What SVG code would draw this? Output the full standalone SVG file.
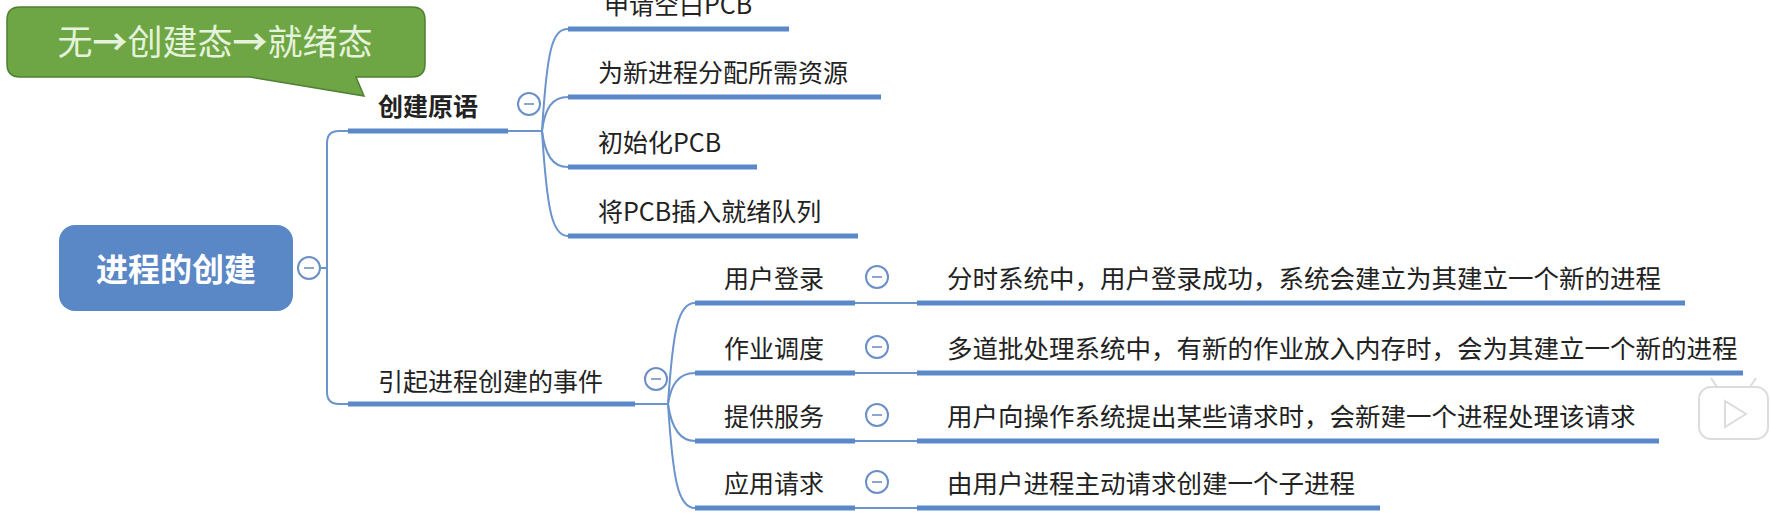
<svg xmlns="http://www.w3.org/2000/svg" width="1771" height="514" viewBox="0 0 1771 514">
<style>
.bar{stroke:#5a88c8;stroke-width:5;fill:none}
.thin{stroke:#6b93cc;stroke-width:2;fill:none}
.lbl{font-family:"Noto Sans CJK SC","Noto Sans",sans-serif;font-size:25px;fill:#222}
.desc{font-family:"Noto Sans CJK SC","Noto Sans",sans-serif;font-size:25.5px;fill:#222}
.col circle{fill:#fff;stroke:#6a8fc6;stroke-width:2}
.col line{stroke:#8ea6cc;stroke-width:2}
.arr{font-weight:bold}
</style>
<defs>
<g id="minus" class="col"><circle cx="0" cy="0" r="11"/><line x1="-5" y1="0" x2="5" y2="0"/></g>
</defs>
<rect width="1771" height="514" fill="#fff"/>

<g id="connectors">
<line class="thin" x1="321" y1="268" x2="327" y2="268"/>
<path class="thin" d="M348,131 H339 Q327,131 327,143 V392 Q327,404 339,404 H348"/>
<line class="thin" x1="508" y1="131" x2="542" y2="131"/>
<path class="thin" d="M542,131 C547,50 552,29 568,29"/>
<path class="thin" d="M542,131 C545,108 552,97 568,97"/>
<path class="thin" d="M542,131 C545,154 552,167 568,167"/>
<path class="thin" d="M542,131 C547,210 552,236 568,236"/>
<line class="thin" x1="635" y1="404" x2="668" y2="404"/>
<path class="thin" d="M668,404 C673,330 678,303 695,303"/>
<path class="thin" d="M668,404 C671,385 678,373 695,373"/>
<path class="thin" d="M668,404 C671,425 678,441 695,441"/>
<path class="thin" d="M668,404 C673,480 678,508 695,508"/>
<line class="thin" x1="855" y1="303" x2="917" y2="303"/>
<line class="thin" x1="855" y1="373" x2="917" y2="373"/>
<line class="thin" x1="855" y1="441" x2="917" y2="441"/>
<line class="thin" x1="855" y1="508" x2="917" y2="508"/>
</g>

<g id="callout">
<path d="M20,7 H412 Q425,7 425,20 V64 Q425,77 412,77 H356 L364,96 L250,77 H20 Q7,77 7,64 V20 Q7,7 20,7 Z" fill="#6ea645" stroke="#4f7f32" stroke-width="1.5"/>
<text x="215" y="55" text-anchor="middle" font-family="Noto Sans CJK SC, Noto Sans, sans-serif" font-size="35" fill="#e6f3dc">无<tspan class="arr">→</tspan>创建态<tspan class="arr">→</tspan>就绪态</text>
</g>

<g id="root">
<rect x="59" y="225" width="234" height="86" rx="16" fill="#5a87c6"/>
<text x="176" y="281" text-anchor="middle" font-family="Noto Sans CJK SC, Noto Sans, sans-serif" font-size="32" font-weight="bold" fill="#fff">进程的创建</text>
<use href="#minus" x="309" y="268"/>
</g>

<g id="create-primitive">
<text class="lbl" x="378" y="116" font-weight="bold">创建原语</text>
<line class="bar" x1="348" y1="131" x2="508" y2="131"/>
<use href="#minus" x="529" y="104"/>
</g>
<g id="apply-pcb">
<text class="lbl" x="604" y="14">申请空白PCB</text>
<line class="bar" x1="568" y1="29" x2="789" y2="29"/>
</g>
<g id="alloc-res">
<text class="lbl" x="598" y="82">为新进程分配所需资源</text>
<line class="bar" x1="568" y1="97" x2="881" y2="97"/>
</g>
<g id="init-pcb">
<text class="lbl" x="598" y="152">初始化PCB</text>
<line class="bar" x1="568" y1="167" x2="757" y2="167"/>
</g>
<g id="insert-pcb">
<text class="lbl" x="598" y="221">将PCB插入就绪队列</text>
<line class="bar" x1="568" y1="236" x2="858" y2="236"/>
</g>

<g id="events">
<text class="lbl" x="378" y="391">引起进程创建的事件</text>
<line class="bar" x1="348" y1="404" x2="635" y2="404"/>
<use href="#minus" x="656" y="379"/>
</g>

<g id="login">
<text class="lbl" x="724" y="288">用户登录</text>
<line class="bar" x1="695" y1="303" x2="855" y2="303"/>
<use href="#minus" x="877" y="277"/>
</g>
<g id="login-desc">
<text class="desc" x="947" y="288">分时系统中，用户登录成功，系统会建立为其建立一个新的进程</text>
<line class="bar" x1="917" y1="303" x2="1685" y2="303"/>
</g>
<g id="job">
<text class="lbl" x="724" y="358">作业调度</text>
<line class="bar" x1="695" y1="373" x2="855" y2="373"/>
<use href="#minus" x="877" y="347"/>
</g>
<g id="job-desc">
<text class="desc" x="947" y="358">多道批处理系统中，有新的作业放入内存时，会为其建立一个新的进程</text>
<line class="bar" x1="917" y1="373" x2="1743" y2="373"/>
</g>
<g id="service">
<text class="lbl" x="724" y="426">提供服务</text>
<line class="bar" x1="695" y1="441" x2="855" y2="441"/>
<use href="#minus" x="877" y="415"/>
</g>
<g id="service-desc">
<text class="desc" x="947" y="426">用户向操作系统提出某些请求时，会新建一个进程处理该请求</text>
<line class="bar" x1="917" y1="441" x2="1659" y2="441"/>
</g>
<g id="app">
<text class="lbl" x="724" y="493">应用请求</text>
<line class="bar" x1="695" y1="508" x2="855" y2="508"/>
<use href="#minus" x="877" y="482"/>
</g>
<g id="app-desc">
<text class="desc" x="947" y="493">由用户进程主动请求创建一个子进程</text>
<line class="bar" x1="917" y1="508" x2="1380" y2="508"/>
</g>

<g id="watermark" fill="#fff" stroke="#dcdcdc" stroke-width="2">
<line x1="1717" y1="387" x2="1711" y2="378"/>
<line x1="1750" y1="387" x2="1756" y2="378"/>
<rect x="1699" y="387" width="69" height="52" rx="12"/>
<path d="M1725,401 L1725,427 L1746,414 Z"/>
</g>
</svg>
